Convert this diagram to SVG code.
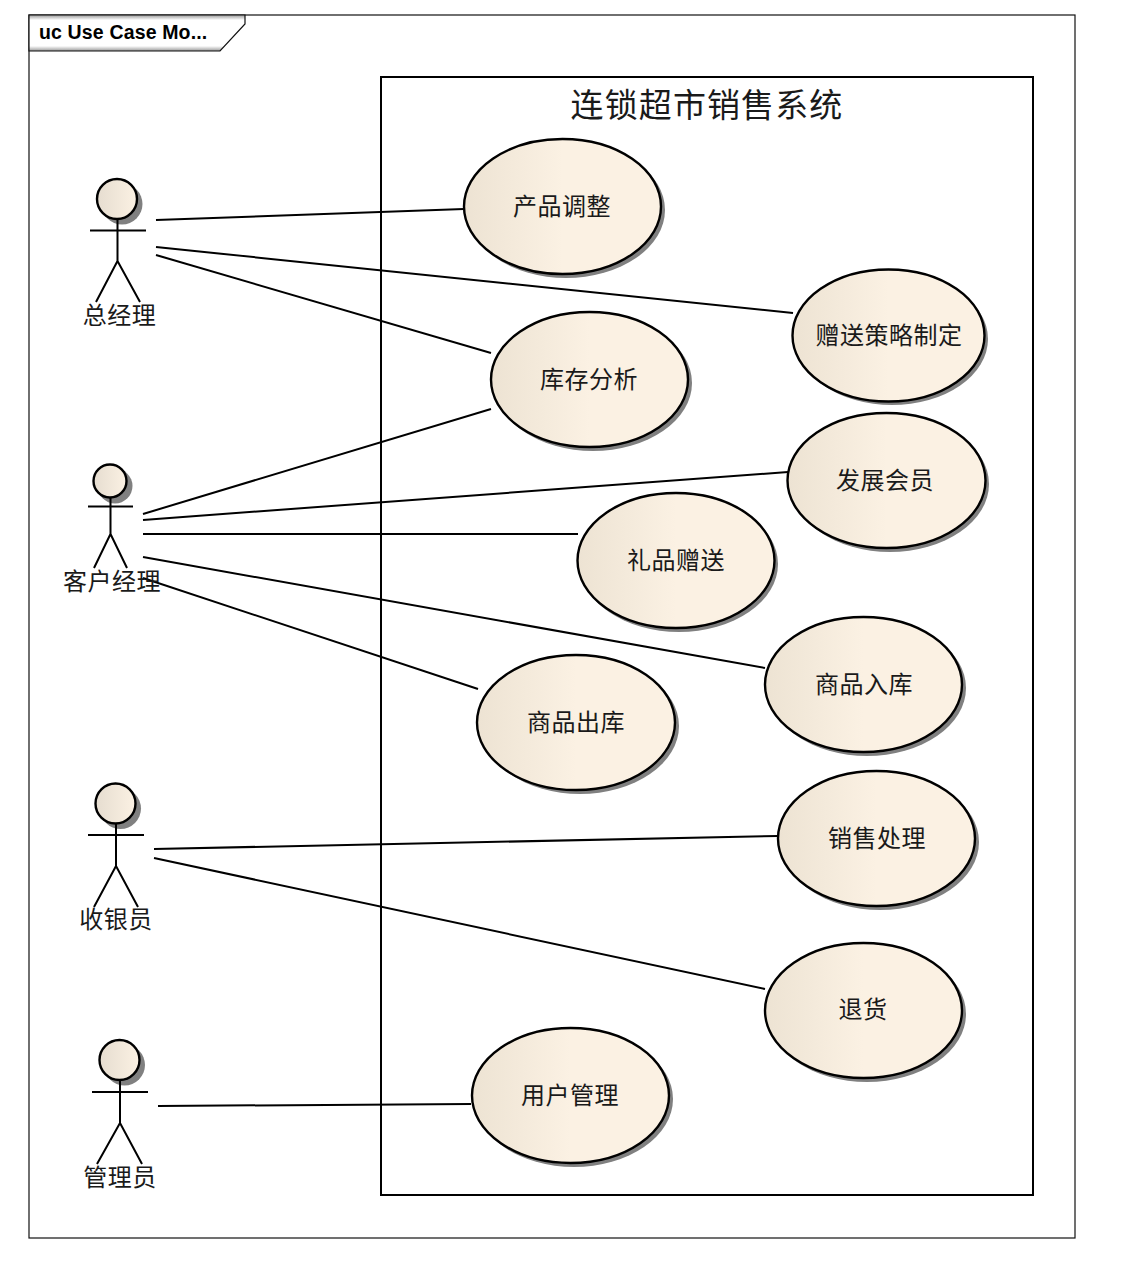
<svg xmlns="http://www.w3.org/2000/svg" width="1134" height="1264" viewBox="0 0 1134 1264">
<style>
.t{font-family:"Noto Sans CJK SC","Liberation Sans",sans-serif;fill:#1a1a1a;text-anchor:middle;font-size:24px;letter-spacing:.5px}
.l{stroke:#000;stroke-width:2;fill:none}
.u{fill:url(#g);stroke:#000;stroke-width:2.4}
.s{fill:#808080;stroke:none}
.a{stroke:#000;stroke-width:2;fill:none}
.h{fill:url(#hg);stroke:#000;stroke-width:2.4}
</style>
<defs>
<linearGradient id="g" x1="0" x2="1" y1="0" y2="0"><stop offset="0" stop-color="#ede3d3"/><stop offset="0.5" stop-color="#fbf1e3"/><stop offset="1" stop-color="#fbf1e3"/></linearGradient>
<linearGradient id="hg" x1="0" x2="1" y1="0" y2="0"><stop offset="0" stop-color="#e6ddd0"/><stop offset="1" stop-color="#fbf1e3"/></linearGradient>
<linearGradient id="tab" x1="0" x2="0" y1="0" y2="1"><stop offset="0" stop-color="#999"/><stop offset="0.14" stop-color="#fff"/><stop offset="0.86" stop-color="#fff"/><stop offset="1" stop-color="#999"/></linearGradient>
</defs>
<rect width="1134" height="1264" fill="#fff"/>
<g id="frame">
<rect x="29" y="15" width="1046" height="1223" fill="none" stroke="#111" stroke-width="1.2"/>
<path d="M29 15H245V24L220 51H29Z" fill="url(#tab)" stroke="#111" stroke-width="1.2"/>
<text x="39" y="39" style="font-family:'Liberation Sans',sans-serif;font-weight:700;font-size:19.5px;letter-spacing:.15px;fill:#000">uc Use Case Mo...</text>
</g>
<g id="boundary">
<rect x="381" y="77" width="652" height="1118" fill="#fff" stroke="#000" stroke-width="2"/>
<text class="t" x="707" y="117" style="font-size:33px;letter-spacing:1.1px">连锁超市销售系统</text>
</g>
<g id="connectors">
<path class="l" d="M156 220L464 209"/>
<path class="l" d="M156 247L793 313"/>
<path class="l" d="M156 255L491 353"/>
<path class="l" d="M143 514L491 409"/>
<path class="l" d="M143 520L788 472"/>
<path class="l" d="M143 534H578"/>
<path class="l" d="M143 557L765 668"/>
<path class="l" d="M143 578L478 689"/>
<path class="l" d="M154 849L778 836"/>
<path class="l" d="M154 858L765 989"/>
<path class="l" d="M158 1106L471 1104"/>
</g>
<g id="u1"><ellipse class="s" cx="566" cy="210" rx="99" ry="68"/><ellipse class="u" cx="562.500" cy="206.500" rx="98.500" ry="67.500"/><text class="t" x="562" y="215">产品调整</text></g>
<g id="u2"><ellipse class="s" cx="892" cy="339" rx="96" ry="66"/><ellipse class="u" cx="888.500" cy="335.500" rx="96" ry="66"/><text class="t" x="889" y="344">赠送策略制定</text></g>
<g id="u3"><ellipse class="s" cx="593" cy="383" rx="99" ry="68"/><ellipse class="u" cx="589.500" cy="379.500" rx="98.500" ry="67.500"/><text class="t" x="589" y="388">库存分析</text></g>
<g id="u4"><ellipse class="s" cx="890" cy="484" rx="99" ry="68"/><ellipse class="u" cx="886.500" cy="480.500" rx="99" ry="67.500"/><text class="t" x="885" y="489">发展会员</text></g>
<g id="u5"><ellipse class="s" cx="679" cy="564" rx="99" ry="68"/><ellipse class="u" cx="676" cy="560.500" rx="98.500" ry="67.500"/><text class="t" x="676" y="569">礼品赠送</text></g>
<g id="u6"><ellipse class="s" cx="867" cy="688" rx="99" ry="68"/><ellipse class="u" cx="863.500" cy="684.500" rx="98.500" ry="67.500"/><text class="t" x="864" y="693">商品入库</text></g>
<g id="u7"><ellipse class="s" cx="580" cy="726" rx="99" ry="68"/><ellipse class="u" cx="576" cy="722.500" rx="99" ry="67.500"/><text class="t" x="576" y="731">商品出库</text></g>
<g id="u8"><ellipse class="s" cx="880" cy="842" rx="99" ry="68"/><ellipse class="u" cx="876.500" cy="838.500" rx="98.500" ry="67.500"/><text class="t" x="877" y="847">销售处理</text></g>
<g id="u9"><ellipse class="s" cx="867" cy="1014" rx="99" ry="68"/><ellipse class="u" cx="863.500" cy="1010.500" rx="98.500" ry="67.500"/><text class="t" x="863" y="1018">退货</text></g>
<g id="u10"><ellipse class="s" cx="574" cy="1099" rx="99" ry="68"/><ellipse class="u" cx="570.500" cy="1095.500" rx="98.500" ry="67.500"/><text class="t" x="570" y="1104">用户管理</text></g>
<g id="a1"><circle class="s" cx="122" cy="204" r="20.500"/><circle class="h" cx="117" cy="199" r="20"/><path class="a" d="M117.500 219V261M90 230.500H146M117.500 261L96 302M117.500 261L140 302"/><text class="t" x="119.500" y="324">总经理</text></g>
<g id="a2"><circle class="s" cx="115" cy="486" r="17.500"/><circle class="h" cx="110" cy="481" r="16.500"/><path class="a" d="M110.500 498V534M88 506.500H133M110.500 534L94 568M110.500 534L127 568"/><text class="t" x="112" y="590">客户经理</text></g>
<g id="a3"><circle class="s" cx="120.500" cy="808.500" r="20.500"/><circle class="h" cx="115.500" cy="803.500" r="20"/><path class="a" d="M116 824V866M88 835H144M116 866L94 907M116 866L138 907"/><text class="t" x="116" y="928">收银员</text></g>
<g id="a4"><circle class="s" cx="124.500" cy="1065" r="20.500"/><circle class="h" cx="119.500" cy="1060" r="20"/><path class="a" d="M120 1080V1123M92 1092H148M120 1123L97 1164M120 1123L142 1164"/><text class="t" x="120" y="1186">管理员</text></g>
</svg>
